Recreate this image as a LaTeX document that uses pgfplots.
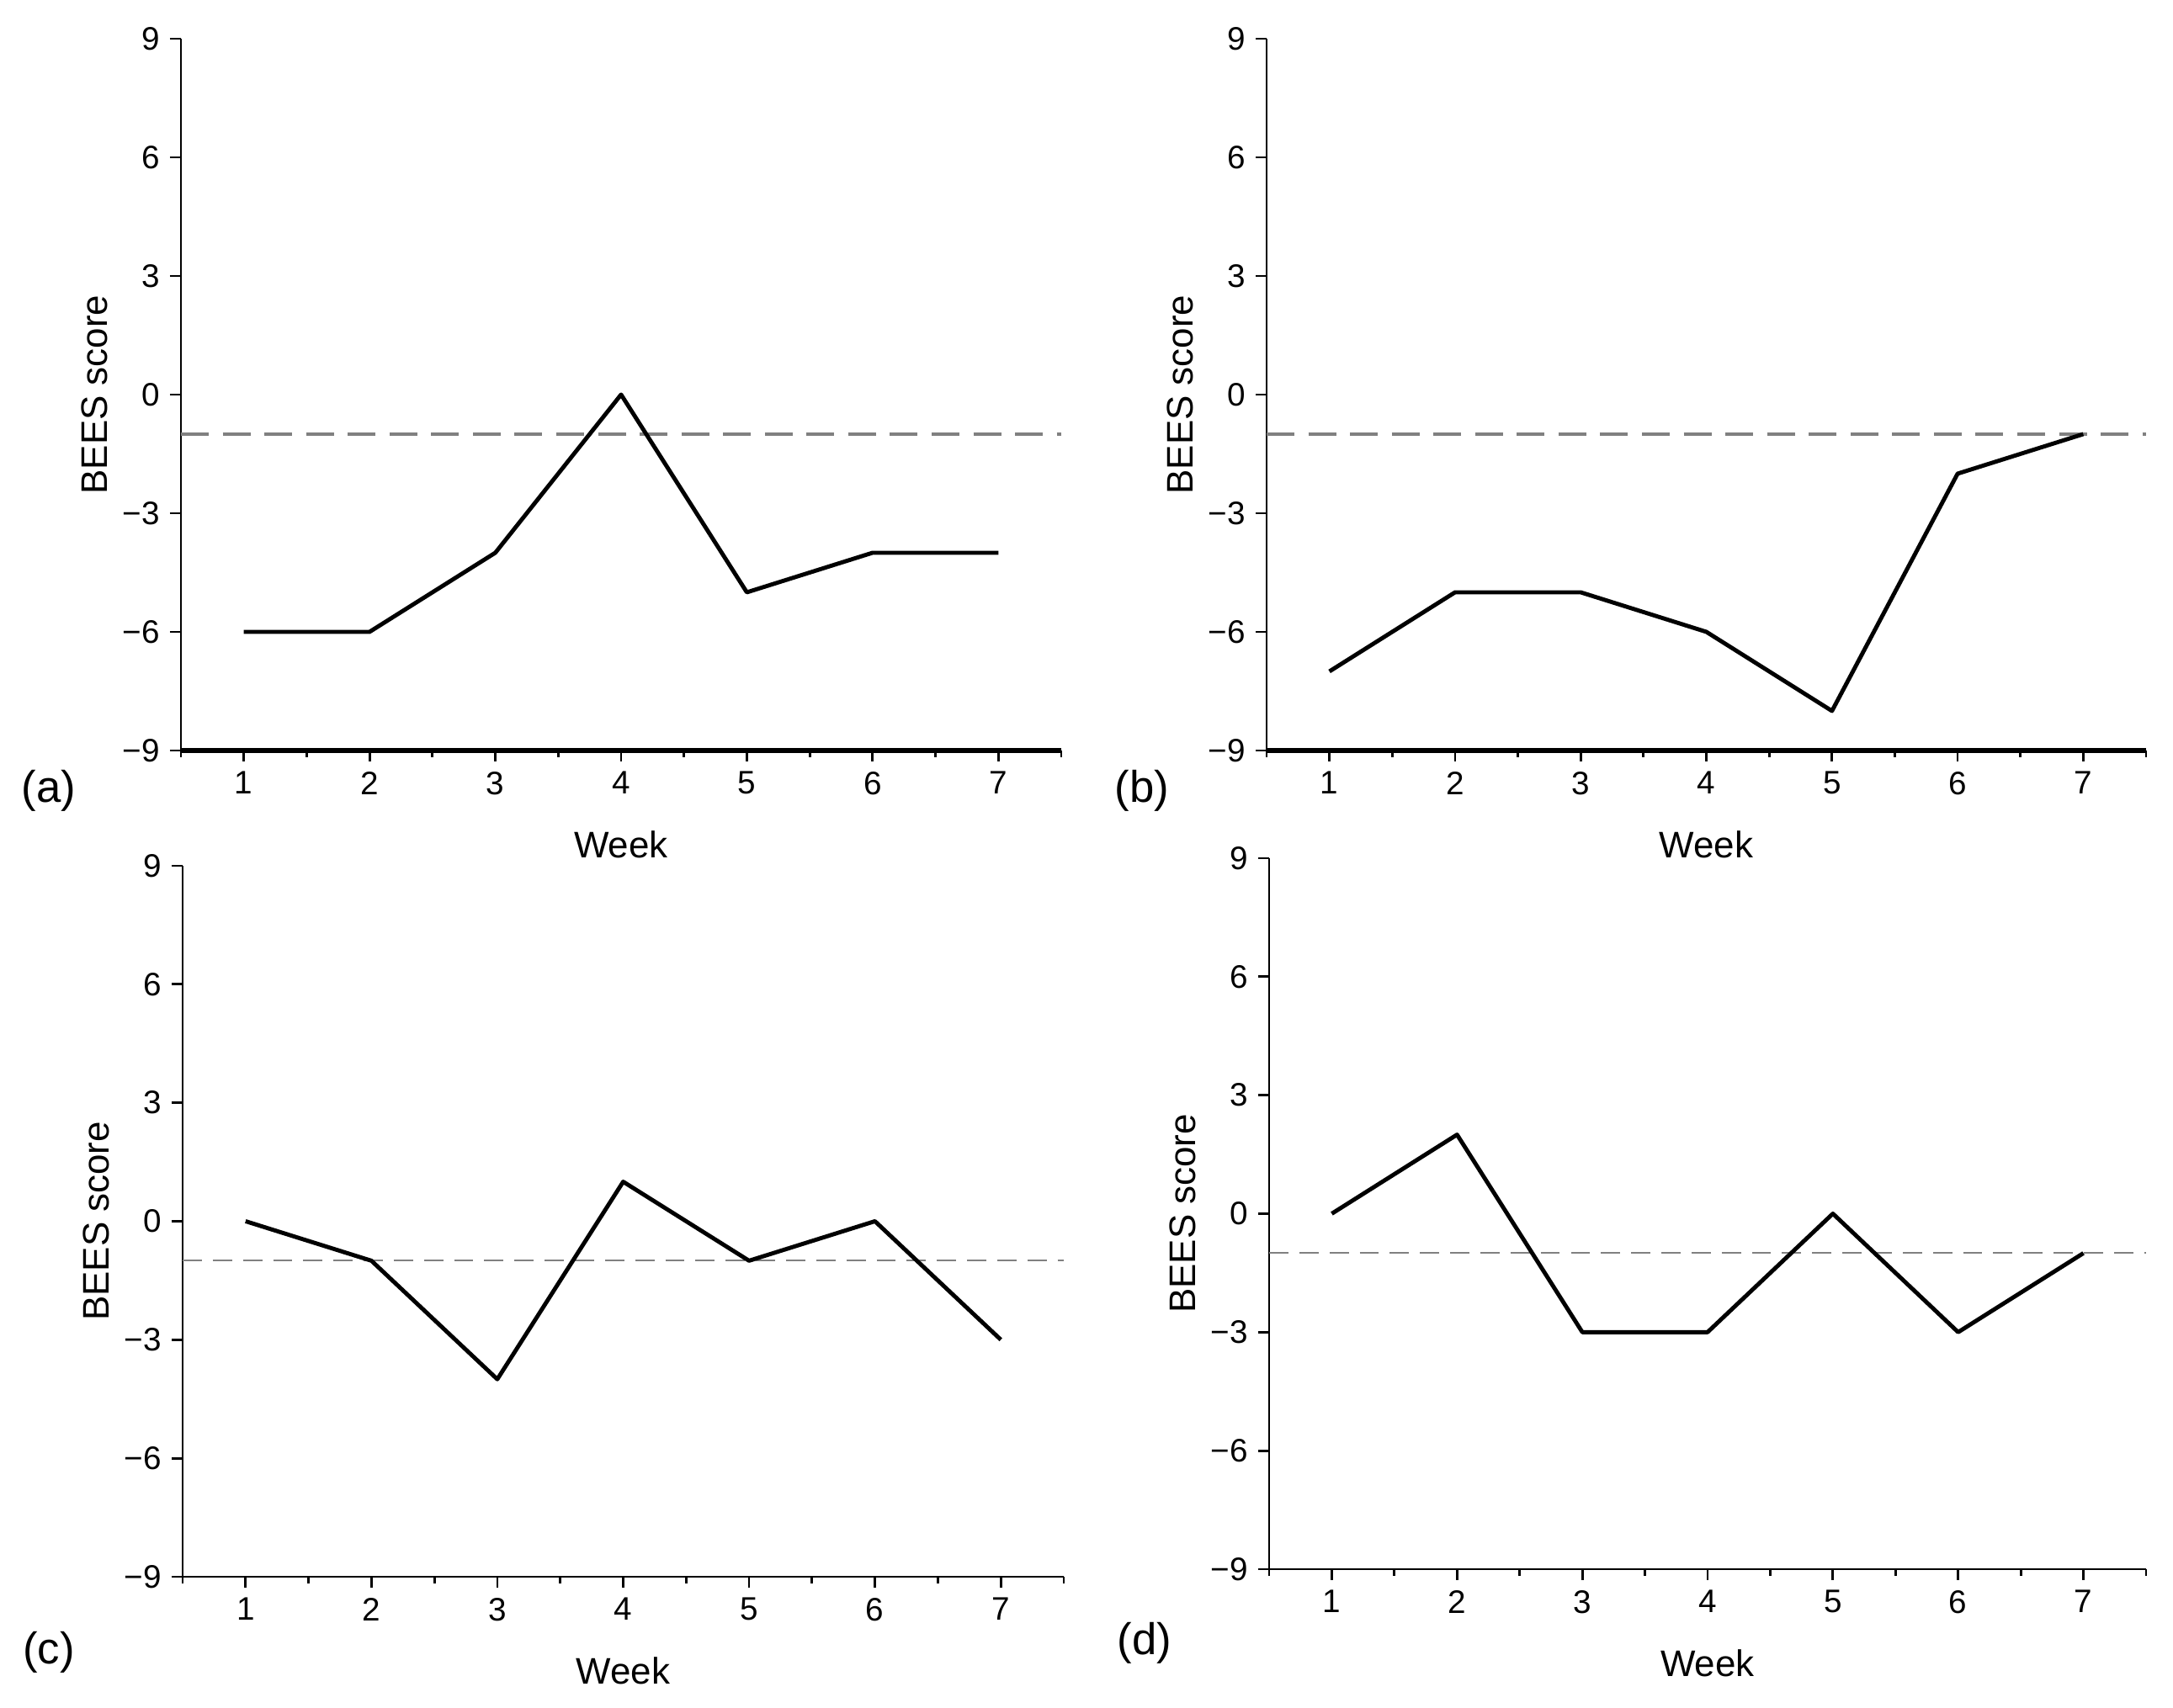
\documentclass[border=0pt]{standalone}
\usepackage{pgfplots}
\pgfplotsset{compat=1.18}
\usepackage{fontspec}
\setmainfont{Liberation Sans}
\definecolor{refgray}{RGB}{128,128,128}
\pgfplotsset{
  panel/.style={
    scale only axis,
    xmin=0.5, xmax=7.5, ymin=-9, ymax=9,
    axis x line=bottom, axis y line=left, axis line style={-},
    xtick={1,2,3,4,5,6,7},
    minor xtick={0.5,1.5,2.5,3.5,4.5,5.5,6.5,7.5},
    ytick={-9,-6,-3,0,3,6,9},
    yticklabels={−9,−6,−3,0,3,6,9},
    tick align=outside,
    major tick length=0.13cm, minor tick length=0.08cm,
    tick style={black, line width=0.8pt},
    ticklabel style={font=\fontsize{11}{13}\selectfont},
    /pgf/number format/assume math mode=true,
    xlabel=Week, ylabel=BEES score,
    label style={font=\fontsize{12.5}{15}\selectfont},
    xlabel style={at={([yshift=-1.12cm]axis description cs:0.5,0)}, anchor=center},
    ylabel style={at={([xshift=-1.03cm]axis description cs:0,0.5)}, anchor=center},
    clip=false,
  },
  thickpanel/.style={panel,
    x axis line style={line width=1.5pt},
    y axis line style={line width=0.8pt}},
  thinpanel/.style={panel,
    x axis line style={line width=0.8pt},
    y axis line style={line width=0.7pt}},
  dataline/.style={black, line width=1.4pt, line join=round},
  thickdash/.style={refgray, line width=1.3pt, dash pattern=on 9.4pt off 4.7pt},
  thindash/.style={refgray, line width=0.6pt, dash pattern=on 6.5pt off 3.7pt},
}
\begin{document}
\begin{tikzpicture}
\path[use as bounding box] (0cm,0cm) rectangle (25.82cm,20.30cm);
% (a)
\begin{axis}[thickpanel, at={(2.15cm,11.38cm)}, anchor=south west, width=10.46cm, height=8.46cm]
\addplot[thickdash] coordinates {(0.5,-1) (7.5,-1)};
\addplot[dataline] coordinates {(1,-6) (2,-6) (3,-4) (4,0) (5,-5) (6,-4) (7,-4)};
\end{axis}
% (b)
\begin{axis}[thickpanel, at={(15.05cm,11.38cm)}, anchor=south west, width=10.45cm, height=8.46cm]
\addplot[thickdash] coordinates {(0.5,-1) (7.5,-1)};
\addplot[dataline] coordinates {(1,-7) (2,-5) (3,-5) (4,-6) (5,-8) (6,-2) (7,-1)};
\end{axis}
% (c)
\begin{axis}[thinpanel, at={(2.17cm,1.56cm)}, anchor=south west, width=10.47cm, height=8.45cm]
\addplot[thindash] coordinates {(0.5,-1) (7.5,-1)};
\addplot[dataline] coordinates {(1,0) (2,-1) (3,-4) (4,1) (5,-1) (6,0) (7,-3)};
\end{axis}
% (d)
\begin{axis}[thinpanel, at={(15.08cm,1.65cm)}, anchor=south west, width=10.42cm, height=8.45cm]
\addplot[thindash] coordinates {(0.5,-1) (7.5,-1)};
\addplot[dataline] coordinates {(1,0) (2,2) (3,-3) (4,-3) (5,0) (6,-3) (7,-1)};
\end{axis}
\node[font=\fontsize{15}{18}\selectfont] at (0.58cm,10.90cm) {(a)};
\node[font=\fontsize{15}{18}\selectfont] at (13.57cm,10.90cm) {(b)};
\node[font=\fontsize{15}{18}\selectfont] at (0.58cm,0.66cm) {(c)};
\node[font=\fontsize{15}{18}\selectfont] at (13.60cm,0.77cm) {(d)};
\end{tikzpicture}
\end{document}
